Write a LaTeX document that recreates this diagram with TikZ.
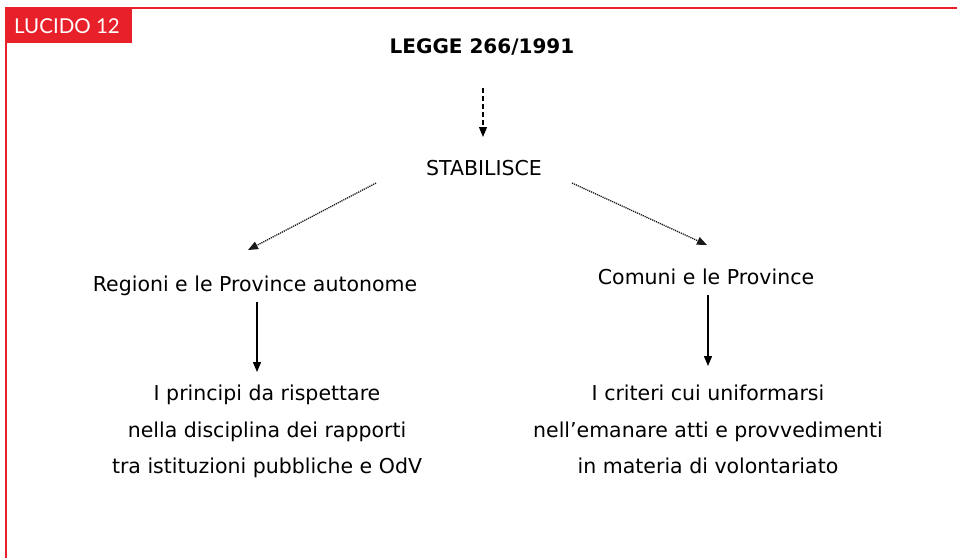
\documentclass[tikz,border=0pt]{standalone}
\usepackage{fontspec}
\setmainfont{DejaVu Sans}
\newfontfamily\tabfont{Lato}
\usetikzlibrary{arrows.meta,calc}
\definecolor{lucidored}{HTML}{E8202A}
\begin{document}
\begin{tikzpicture}[x=1pt,y=-1pt,
  txt/.style={font=\fontsize{20.5}{24}\selectfont, inner sep=0pt, anchor=base},
  para/.style={font=\fontsize{20.5}{36.5}\selectfont, inner sep=0pt, anchor=north, align=center},
  tip/.style={-{Triangle[length=10pt,width=8pt]}},
  solidarrow/.style={tip, line width=1.3pt},
  dashedarrow/.style={tip, line width=1.2pt, dash pattern=on 5pt off 3pt},
  dottedarrow/.style={tip, line width=1.3pt, dash pattern=on 1.2pt off 0.9pt, draw=black!90}]
  \useasboundingbox (0,0) rectangle (957,558);
  \fill[white] (0,0) rectangle (957,558);
  % frame and label tab
  \draw[lucidored, line width=2pt] (957,8) -- (6,8) -- (6,558);
  \fill[lucidored] (6,8) rectangle (132,43);
  \node[font=\tabfont\fontsize{20.5}{24}\selectfont, text=white, inner sep=0pt, anchor=base] (tab) at (67,33) {LUCIDO 12};
  % nodes
  \node[txt, font=\bfseries\fontsize{20}{24}\selectfont] (legge) at (482,53) {LEGGE 266/1991};
  \node[txt] (stab) at (484,175) {STABILISCE};
  \node[txt] (reg) at (255,291) {Regioni e le Province autonome};
  \node[txt] (com) at (706,284) {Comuni e le Province};
  \node[para] (princ) at (267,385)
    {I principi da rispettare\\nella disciplina dei rapporti\\tra istituzioni pubbliche e OdV};
  \node[para] (crit) at (708,385)
    {I criteri cui uniformarsi\\nell’emanare atti e provvedimenti\\in materia di volontariato};
  % connector end points
  \coordinate (lS) at ($(legge.base)+(1,35)$);
  \coordinate (sT) at ($(stab.base)+(-1,-38)$);
  \coordinate (sL) at ($(stab.base)+(-108,8)$);
  \coordinate (sR) at ($(stab.base)+(88,8)$);
  \coordinate (rT) at ($(reg.base)+(-7,-41)$);
  \coordinate (cT) at ($(com.base)+(1,-39)$);
  \coordinate (rB) at ($(reg.base)+(2,11)$);
  \coordinate (cB) at ($(com.base)+(2,11)$);
  \coordinate (pT) at (rB |- {$(princ.north)+(0,-13)$});
  \coordinate (kT) at (cB |- {$(crit.north)+(0,-19)$});
  % connectors
  \draw[dashedarrow] (lS) -- (sT);
  \draw[dottedarrow] (sL) -- (rT);
  \draw[dottedarrow] (sR) -- (cT);
  \draw[solidarrow] (rB) -- (pT);
  \draw[solidarrow] (cB) -- (kT);
\end{tikzpicture}
\end{document}
